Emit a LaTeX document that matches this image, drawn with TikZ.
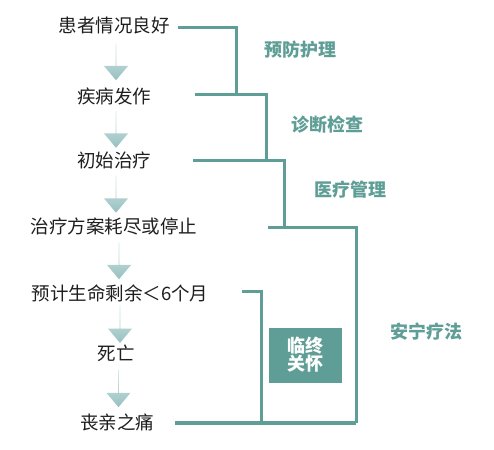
\documentclass[tikz,border=0pt]{standalone}
\usepackage{fontspec}
\setmainfont{Noto Sans CJK SC}
\usetikzlibrary{shapes.arrows,calc}
\definecolor{careteal}{RGB}{94,158,150}
\definecolor{arrowgrey}{RGB}{150,192,192}
\definecolor{textgrey}{RGB}{30,30,30}
\begin{document}
\begin{tikzpicture}[x=1pt, y=-1pt,
  stage/.style={inner sep=0pt, text=textgrey, font=\fontsize{18.5}{20}\selectfont},
  flow/.style={single arrow, shape border rotate=270, draw=none, inner sep=0pt,
    minimum height=37pt, minimum width=24pt, single arrow head extend=5pt,
    single arrow tip angle=80, top color=arrowgrey!35, bottom color=arrowgrey},
  bracket/.style={draw=careteal, line width=3pt},
  phase/.style={text=careteal, font=\fontsize{18}{20}\selectfont\bfseries},
  carebox/.style={fill=careteal, text=white, align=center, minimum width=73pt,
    minimum height=55pt, inner sep=0pt, font=\fontsize{18}{20}\selectfont\bfseries}]

\useasboundingbox (0,0) rectangle (494,449);

% define stages
\foreach \t/\x/\y [count=\i] in {患者情况良好/114/25, 疾病发作/114/96, 初始治疗/114/160,
    治疗方案耗尽或停止/114/226, 预计生命剩余＜6个月/120/293, 死亡/116/353, 丧亲之痛/117/422}
  \node [stage] (s\i) at (\x,\y) {\t};

% draw arrows between stages
\foreach \i [evaluate=\i as \j using int(\i+1)] in {1,...,6}
  \node [flow] (a\i) at ($(s\i.south)!.5!(s\j.north)+(2,1)$) {};

% define bracket ends
\foreach \px/\py/\qx/\qy [count=\i] in {178/28/236/95, 195/95/266/160, 193/160/284/227,
    268/227/356/423, 242/291/261/423} {
  \coordinate (p\i) at (\px,\py);
  \coordinate (q\i) at (\qx,\qy);
}
\coordinate (p6) at (175,423);

% draw brackets
\foreach \i in {1,...,5}
  \draw [bracket] (p\i) -| (q\i);
\draw [bracket, line width=4pt] (p6) -- (q4);

% phase labels
\foreach \t/\x/\y [count=\i] in {预防护理/300/50, 诊断检查/327/125, 医疗管理/350/190, 安宁疗法/426/332}
  \node [phase] (phase\i) at (\x,\y) {\t};

\node [carebox] (care) at (305,355) {临终\\[-2pt]关怀};

\end{tikzpicture}
\end{document}
